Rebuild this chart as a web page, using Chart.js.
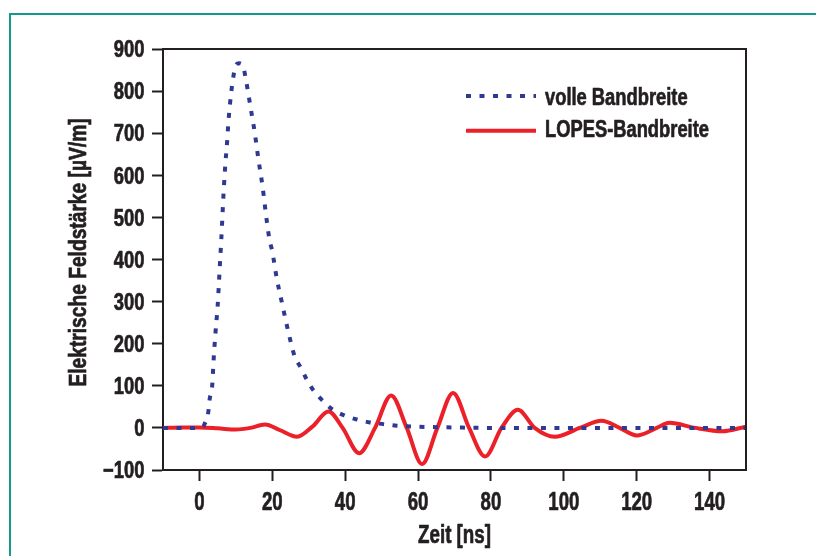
<!DOCTYPE html>
<html>
<head>
<meta charset="utf-8">
<script src="https://cdn.jsdelivr.net/npm/chart.js@4"></script>
<style>
  html, body { margin: 0; padding: 0; background: #fff; overflow: hidden; }
  #frame { position: absolute; left: 9px; top: 13px; width: 900px; height: 700px; border: 2px solid #14998c; box-sizing: border-box; }
  #wrap { position: absolute; left: 0; top: 0; width: 816px; height: 556px; }
</style>
</head>
<body>
<div id="frame"></div>
<div id="wrap"><canvas id="fieldChart"></canvas></div>
<script>
// values
const fullTime = [-10, 0, 1, 1.4, 2.4, 2.8, 3.5, 3.9, 4.4, 5.0, 5.6, 6.0, 6.7, 7.2, 7.5, 8.0, 8.7, 9.2, 9.9, 10.9,
                  12.0, 12.8, 14.0, 15.2, 16.2, 17.3, 18.2, 19.2, 20.0, 21.2, 22.7, 24.3, 26.1, 27.9, 29.5, 31.3,
                  33.9, 36.5, 40, 43.2, 46.8, 50.5, 54.2, 58.6, 66.8, 80, 150];
const fullField = [0, 0, 3, 9, 36, 68, 100, 163, 226, 290, 385, 448, 570, 637, 668, 732, 795, 828, 860, 866,
                   858, 825, 763, 700, 637, 575, 511, 448, 419, 356, 295, 232, 171, 142, 114, 89,
                   64, 44, 29, 20, 13, 9, 5, 3, 1.5, 0, 0];

const lopesTime = [-10, -5, 0, 5, 10, 14, 18, 22, 26.8, 31, 35.4, 39.3, 43.8, 48.2, 52.6, 56.9, 61.1, 65.3,
                   69.6, 74, 78.4, 82.9, 87.4, 92, 97.5, 104.4, 110.4, 115.3, 120, 125.5, 129, 136, 143.5, 150];
const lopesField = [0, 1, 1, -1, -4, 0, 8, -5, -21, 3, 39, 0, -60, 0, 77, 0, -86, 0,
                    83, 0, -68, 0, 43, 0, -21, 0, 17, 0, -18, 0, 12, 0, -8, 3];

const xTicks = [0, 20, 40, 60, 80, 100, 120, 140];
const yTicks = [-100, 0, 100, 200, 300, 400, 500, 600, 700, 800, 900];

const xTitle = 'Zeit [ns]';
const yTitle = 'Elektrische Feldstärke [µV/m]';

const ink = '#231f20';
const family = '"Liberation Sans", Arial, sans-serif';

// no condensed font is installed, so squeeze a bold sans sideways
function squeezed(ctx, text, x, y, size, sx, align, angle) {
    ctx.save();
    ctx.translate(x, y);
    if (angle) ctx.rotate(angle);
    ctx.scale(sx, 1);
    ctx.font = 'bold ' + size + 'px ' + family;
    ctx.fillStyle = ink;
    ctx.strokeStyle = ink;
    ctx.lineWidth = 0.7;
    ctx.lineJoin = 'round';
    ctx.textAlign = align;
    ctx.textBaseline = 'alphabetic';
    ctx.fillText(text, 0, 0);
    ctx.strokeText(text, 0, 0);   // a bit heavier, like the condensed bold original
    ctx.restore();
}

const fmt = v => v < 0 ? '\u2212' + Math.abs(v) : String(v);

// box on top/right, tick labels, axis titles and legend
const frameAndText = {
    id: 'frameAndText',
    afterDatasetsDraw(chart) {
        const { ctx, chartArea, scales } = chart;
        ctx.save();
        ctx.strokeStyle = ink;
        ctx.lineWidth = 2;
        ctx.beginPath();
        ctx.moveTo(chartArea.left, chartArea.top);
        ctx.lineTo(chartArea.right, chartArea.top);
        ctx.lineTo(chartArea.right, chartArea.bottom);
        ctx.stroke();
        ctx.restore();

        yTicks.forEach(v => {
            squeezed(ctx, fmt(v), 144.5, scales.y.getPixelForValue(v) + 8.2, 23, 0.8, 'right');
        });
        xTicks.forEach(v => {
            squeezed(ctx, fmt(v), scales.x.getPixelForValue(v), 509.5, 25.5, 0.73, 'center');
        });
        squeezed(ctx, xTitle, (chartArea.left + chartArea.right) / 2, 543, 25, 0.75, 'center');
        squeezed(ctx, yTitle, 85.5, 252.5, 24, 0.8, 'center', -Math.PI / 2);

        chart.data.datasets.forEach((ds, i) => {
            const y = 96 + i * 34.7;
            ctx.save();
            ctx.strokeStyle = ds.borderColor;
            ctx.lineWidth = ds.borderWidth;
            ctx.setLineDash(ds.borderDash || []);
            ctx.beginPath();
            ctx.moveTo(466, y);
            ctx.lineTo(536, y);
            ctx.stroke();
            ctx.restore();
            squeezed(ctx, ds.label, 545, 105 + i * 32.3, 23.5, 0.78, 'left');
        });
    }
};

new Chart(document.getElementById('fieldChart'), {
    type: 'line',
    data: {
        datasets: [{
            label: 'volle Bandbreite',
            data: fullTime.map((t, i) => ({ x: t, y: fullField[i] })),
            borderColor: '#2e3992',
            borderWidth: 4,
            borderDash: [5, 8.5],
            pointRadius: 0,
            cubicInterpolationMode: 'monotone'
        }, {
            label: 'LOPES-Bandbreite',
            data: lopesTime.map((t, i) => ({ x: t, y: lopesField[i] })),
            borderColor: '#ec2029',
            borderWidth: 4,
            pointRadius: 0,
            cubicInterpolationMode: 'monotone'
        }]
    },
    options: {
        responsive: true,
        maintainAspectRatio: false,
        animation: false,
        layout: { padding: { top: 49, right: 70, left: 0, bottom: 0 } },
        plugins: {
            legend: { display: false },
            tooltip: { enabled: false }
        },
        scales: {
            x: {
                type: 'linear',
                min: -10,
                max: 150,
                afterBuildTicks: scale => { scale.ticks = xTicks.map(v => ({ value: v })); },
                afterFit: scale => { scale.height = 86; },
                ticks: { display: false },
                grid: { drawOnChartArea: false, tickLength: 11, tickWidth: 2, tickColor: ink },
                border: { display: true, color: ink, width: 2 }
            },
            y: {
                min: -100,
                max: 900,
                afterBuildTicks: scale => { scale.ticks = yTicks.map(v => ({ value: v })); },
                afterFit: scale => { scale.width = 163; },
                ticks: { display: false },
                grid: { drawOnChartArea: false, tickLength: 11, tickWidth: 2, tickColor: ink },
                border: { display: true, color: ink, width: 2 }
            }
        }
    },
    plugins: [frameAndText]
});
</script>
</body>
</html>
